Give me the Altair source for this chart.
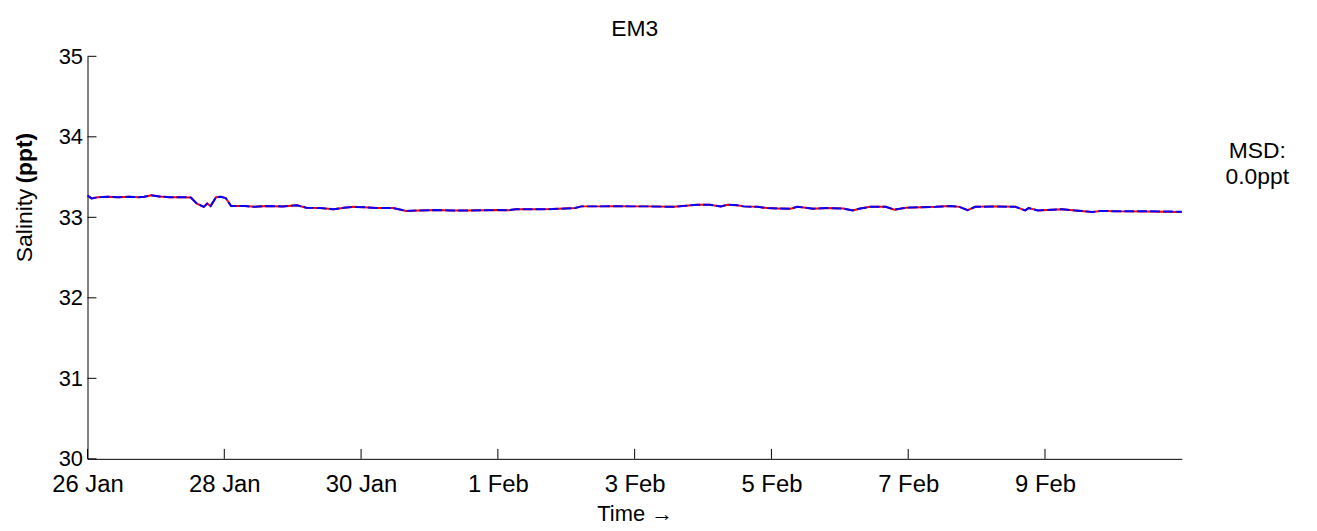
import altair as alt
import pandas as pd

# ---- data ----
day_offsets = [0.00, 0.06, 0.15, 0.30, 0.45, 0.60, 0.75, 0.83, 0.93, 1.05,
               1.20, 1.35, 1.51, 1.60, 1.70, 1.75, 1.80, 1.88, 1.95, 2.02,
               2.10, 2.30, 2.45, 2.62, 2.85, 3.06, 3.20, 3.40, 3.60, 3.75,
               3.89, 4.05, 4.22, 4.47, 4.66, 4.85, 5.09, 5.31, 5.55, 5.80,
               6.00, 6.16, 6.26, 6.50, 6.80, 7.13, 7.22, 7.50, 7.75, 7.95,
               8.20, 8.57, 8.92, 9.10, 9.26, 9.36, 9.50, 9.59, 9.80, 9.94,
               10.10, 10.28, 10.38, 10.50, 10.61, 10.80, 11.05, 11.19, 11.30, 11.44,
               11.67, 11.80, 11.97, 12.20, 12.40, 12.60, 12.75, 12.87, 12.98, 13.27,
               13.57, 13.71, 13.76, 13.90, 14.10, 14.25, 14.44, 14.69, 14.83, 15.02,
               15.46, 16.00]

salinity_obs = [33.270, 33.235, 33.250, 33.255, 33.250, 33.255, 33.250, 33.255, 33.275, 33.260,
                33.250, 33.250, 33.247, 33.170, 33.130, 33.170, 33.140, 33.250, 33.255, 33.240,
                33.140, 33.140, 33.130, 33.140, 33.135, 33.150, 33.120, 33.115, 33.100, 33.120,
                33.130, 33.125, 33.115, 33.115, 33.080, 33.085, 33.090, 33.086, 33.085, 33.088,
                33.090, 33.088, 33.100, 33.100, 33.102, 33.115, 33.136, 33.136, 33.138, 33.136,
                33.136, 33.130, 33.157, 33.155, 33.136, 33.157, 33.150, 33.136, 33.130, 33.115,
                33.110, 33.107, 33.130, 33.120, 33.107, 33.115, 33.110, 33.086, 33.110, 33.130,
                33.130, 33.095, 33.120, 33.125, 33.130, 33.140, 33.130, 33.090, 33.130, 33.136,
                33.130, 33.086, 33.115, 33.086, 33.095, 33.100, 33.086, 33.066, 33.080, 33.075,
                33.075, 33.070]

salinity_model = [33.270, 33.235, 33.250, 33.255, 33.250, 33.255, 33.250, 33.255, 33.275, 33.260,
                  33.250, 33.250, 33.247, 33.170, 33.130, 33.170, 33.140, 33.250, 33.255, 33.240,
                  33.140, 33.140, 33.130, 33.140, 33.135, 33.150, 33.120, 33.115, 33.100, 33.120,
                  33.130, 33.125, 33.115, 33.115, 33.080, 33.085, 33.090, 33.086, 33.085, 33.088,
                  33.090, 33.088, 33.100, 33.100, 33.102, 33.115, 33.136, 33.136, 33.138, 33.136,
                  33.136, 33.130, 33.157, 33.155, 33.136, 33.157, 33.150, 33.136, 33.130, 33.115,
                  33.110, 33.107, 33.130, 33.120, 33.107, 33.115, 33.110, 33.086, 33.110, 33.130,
                  33.130, 33.095, 33.120, 33.125, 33.130, 33.140, 33.130, 33.090, 33.130, 33.136,
                  33.130, 33.086, 33.115, 33.086, 33.095, 33.100, 33.086, 33.066, 33.080, 33.075,
                  33.072, 33.065]

y_ticks = [30, 31, 32, 33, 34, 35]
x_tick_dates = ["2021-01-26", "2021-01-28", "2021-01-30", "2021-02-01",
                "2021-02-03", "2021-02-05", "2021-02-07", "2021-02-09"]

title_text = "EM3"
x_title = "Time \u2192"
y_title_main = "Salinity"
y_title_unit = "(ppt)"
msd_lines = ["MSD:", "0.0ppt"]

# ---- frames ----
times = pd.Timestamp("2021-01-26") + pd.to_timedelta(day_offsets, unit="D")
df = pd.DataFrame({"time": times, "obs": salinity_obs, "model": salinity_model})
ytick_df = pd.DataFrame({"v": y_ticks})
xtick_df = pd.DataFrame({"d": pd.to_datetime(x_tick_dates)})

W, H = 1101, 405
FONT = "Liberation Sans"

x_scale = alt.Scale(domain=[alt.DateTime(year=2021, month=1, date=26),
                            alt.DateTime(year=2021, month=2, date=11)])
y_scale = alt.Scale(domain=[30, 35], nice=False, zero=False)

x_axis = alt.Axis(
    values=[alt.DateTime(year=int(s[:4]), month=int(s[5:7]), date=int(s[8:])) for s in x_tick_dates],
    format="%-d %b", ticks=False, grid=False, domainColor="black", domainWidth=1,
    labelFont=FONT, labelFontSize=24, labelColor="black", labelPadding=14,
    labelFlush=False, labelOverlap=False,
    title=x_title, titleFont=FONT, titleFontSize=22, titleFontWeight="normal",
    titleColor="black", titlePadding=7)
y_axis = alt.Axis(
    values=y_ticks, ticks=False, grid=False, domainColor="black", domainWidth=1,
    labelFont=FONT, labelFontSize=22, labelColor="black", labelPadding=5,
    labelFlush=False, title="")

red = alt.Chart(df).mark_line(color="#ff0000", strokeWidth=2).encode(
    x=alt.X("time:T", scale=x_scale, axis=x_axis),
    y=alt.Y("model:Q", scale=y_scale, axis=y_axis))
blue = alt.Chart(df).mark_line(color="#0000ff", strokeWidth=2, strokeDash=[10, 3]).encode(
    x=alt.X("time:T", scale=x_scale, axis=x_axis),
    y=alt.Y("obs:Q", scale=y_scale, axis=y_axis))

yticks = alt.Chart(ytick_df).mark_rule(color="black", strokeWidth=1).encode(
    y=alt.Y("v:Q", scale=y_scale, axis=y_axis), x=alt.value(0), x2=alt.value(9))
xticks = alt.Chart(xtick_df).mark_rule(color="black", strokeWidth=1).encode(
    x=alt.X("d:T", scale=x_scale, axis=x_axis), y=alt.value(H), y2=alt.value(H - 10))

ytitle_a = alt.Chart(pd.DataFrame({"t": [y_title_main]})).mark_text(
    angle=270, align="right", baseline="middle", font=FONT, fontSize=23, color="black"
).encode(text="t:N", x=alt.value(-63), y=alt.value(133))
ytitle_b = alt.Chart(pd.DataFrame({"t": [y_title_unit]})).mark_text(
    angle=270, align="left", baseline="middle", font=FONT, fontSize=23, fontWeight="bold", color="black"
).encode(text="t:N", x=alt.value(-63), y=alt.value(128))

msd_a = alt.Chart(pd.DataFrame({"t": [msd_lines[0]]})).mark_text(
    align="center", baseline="middle", font=FONT, fontSize=23, color="black"
).encode(text="t:N", x=alt.value(1177), y=alt.value(95))
msd_b = alt.Chart(pd.DataFrame({"t": [msd_lines[1]]})).mark_text(
    align="center", baseline="middle", font=FONT, fontSize=23, color="black"
).encode(text="t:N", x=alt.value(1177), y=alt.value(121))

chart = alt.layer(red, blue, yticks, xticks, ytitle_a, ytitle_b, msd_a, msd_b).properties(
    width=W, height=H,
    title=alt.TitleParams(title_text, font=FONT, fontSize=23, fontWeight="normal",
                          color="black", offset=4, anchor="middle", frame="group"),
    padding={"left": 80, "top": 47, "right": 128, "bottom": 71},
    autosize=alt.AutoSizeParams(type="none"),
).configure(background="white").configure_view(strokeWidth=0)

chart.save("out.html", embed_options={"renderer": "svg", "actions": False})
